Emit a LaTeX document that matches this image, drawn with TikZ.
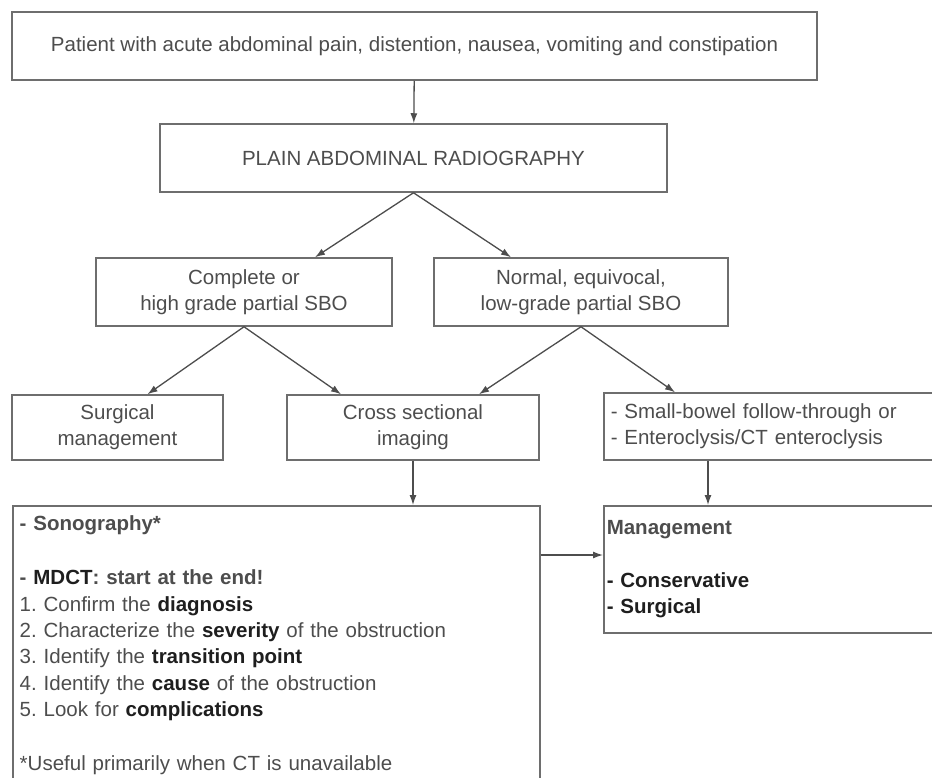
\documentclass[tikz,border=0pt]{standalone}
\usepackage{fontspec}
\setmainfont{Liberation Sans}
\usetikzlibrary{arrows.meta}
\definecolor{boxgray}{HTML}{6E6E6E}
\definecolor{txtgray}{HTML}{4D4D4D}
\definecolor{txtdark}{HTML}{1E1E1E}
\tikzset{box/.style={draw=boxgray, line width=1.5pt, text=txtgray, font=\fontsize{20.5}{26.3}\selectfont\frenchspacing, inner sep=7pt}}
\tikzset{cbox/.style={box, align=center}}
\tikzset{lbox/.style={box, align=left, anchor=north west}}
\tikzset{link/.style={draw=boxgray!70!black, line width=1.3pt, -{Latex[length=10pt,width=7pt]}}}
\newcommand{\hl}[1]{\textbf{\color{txtdark}#1}}

\begin{document}
\begin{tikzpicture}[x=1pt,y=-1pt]
    \useasboundingbox (0,0) rectangle (932,777);
    \foreach \x/\y/\w/\h/\lab/\tx in {
      414.5/46/805/68/patient/{Patient with acute abdominal pain, distention, nausea, vomiting and constipation},
      413.5/158/507/68/plain/{PLAIN ABDOMINAL RADIOGRAPHY},
      244/292/296/68/complete/{Complete or\\high grade partial SBO},
      581/292/294/68/normal/{Normal, equivocal,\\low-grade partial SBO},
      117.5/427.5/211/65/surgical/{Surgical\\management},
      413/427.5/252/65/cross/{Cross sectional\\imaging}%
    } {
      \node[cbox, minimum width=\w pt, minimum height=\h pt] (\lab) at (\x, \y) {\tx};
    }
    \node[lbox, anchor=west, minimum width=347pt, minimum height=67pt, text width=333pt] (sbft) at (603, 426.5)
      {- Small-bowel follow-through or\\- Enteroclysis/CT enteroclysis};
    % box runs on below the page edge
    \node[lbox, inner ysep=10pt, minimum width=527pt, text width=513pt] (mdct) at (12, 505)
      {\textbf{- Sonography*}\\[28pt]
       \textbf{- \color{txtdark}MDCT\color{txtgray}: start at the end!}\\
       1. Confirm the \hl{diagnosis}\\
       2. Characterize the \hl{severity} of the obstruction\\
       3. Identify the \hl{transition point}\\
       4. Identify the \hl{cause} of the obstruction\\
       5. Look for \hl{complications}\\[27.5pt]
       *Useful primarily when CT is unavailable\rule[-20pt]{0pt}{20pt}};
    \node[lbox, inner xsep=3pt, minimum width=347pt, minimum height=127pt, text width=341pt] (manage) at (603, 505)
      {\textbf{Management}\\[26.3pt]\hl{- Conservative}\\\hl{- Surgical}};

    \draw[link] (patient) -- (plain);
    \draw[link] (plain.south) -- ([xshift=71pt]complete.north);
    \draw[link] (plain.south) -- ([xshift=-70pt]normal.north);
    \draw[link] (complete.south) -- ([xshift=30pt]surgical.north);
    \draw[link] (complete.south) -- ([xshift=-72pt]cross.north);
    \draw[link] (normal.south) -- ([xshift=66pt]cross.north);
    \draw[link] (normal.south) -- ([xshift=72pt]sbft.north west);
    \draw[link] (cross.south) -- (cross.south |- mdct.north);
    \draw[link] ([xshift=105pt]sbft.south west) -- ([xshift=105pt]manage.north west);
    \draw[link] ([yshift=-50pt]mdct.north east) -- ([yshift=-50pt]manage.north west);
  \end{tikzpicture}
\end{document}
